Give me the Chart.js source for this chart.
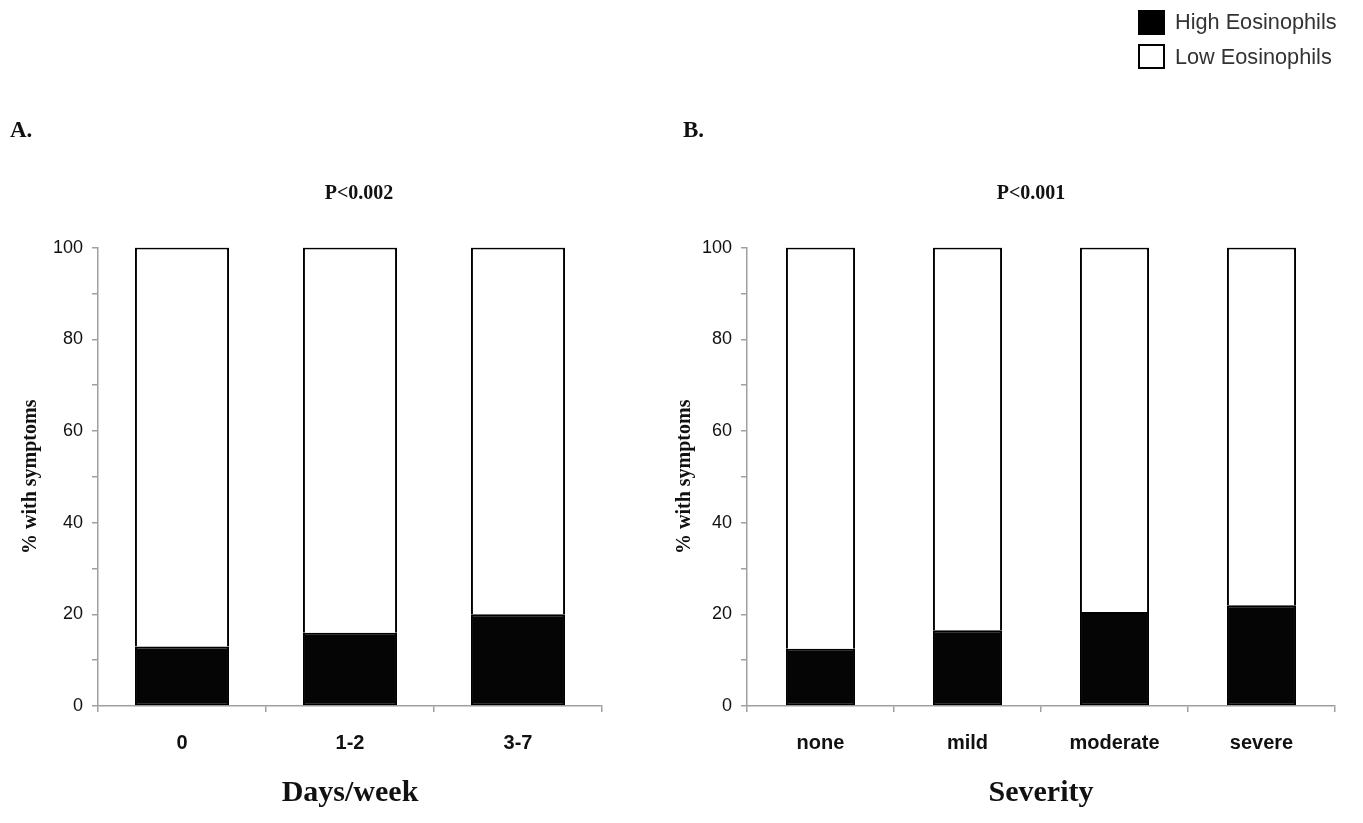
<!DOCTYPE html>
<html>
<head>
<meta charset="utf-8">
<script src="https://cdn.jsdelivr.net/npm/chart.js@4.4.1/dist/chart.umd.min.js"></script>
<style>
  html, body { margin: 0; padding: 0; background: #fff; width: 1363px; height: 823px; overflow: hidden; }
  .abs { position: absolute; }
  .panel { font-family: "Liberation Serif", "Times New Roman", serif; font-weight: bold; font-size: 23px; color: #111; line-height: 23px; }
  .lg-box { position: absolute; width: 23px; height: 21px; border: 2px solid #000; box-sizing: content-box; }
  .lg-text { position: absolute; font-family: "Liberation Sans", Arial, sans-serif; font-size: 21.7px; color: #333; line-height: 22px; white-space: nowrap; }
</style>
</head>
<body>
<canvas id="chartA" class="abs" style="left:0px;top:0px;"></canvas>
<canvas id="chartB" class="abs" style="left:660px;top:0px;"></canvas>

<div class="panel abs" style="left:10px;top:118px;">A.</div>
<div class="panel abs" style="left:683px;top:118px;">B.</div>

<div class="lg-box" style="left:1138px;top:10px;background:#000;"></div>
<div class="lg-text" style="left:1175px;top:11px;">High Eosinophils</div>
<div class="lg-box" style="left:1138px;top:44px;background:#fff;"></div>
<div class="lg-text" style="left:1175px;top:46px;">Low Eosinophils</div>

<script>
// ---- data ----
const legendLabels = ['High Eosinophils', 'Low Eosinophils'];

const daysCategories = ['0', '1-2', '3-7'];
const daysHigh = [13, 16, 20];
const daysLow = [87, 84, 80];
const daysTitle = 'Days/week';
const daysPValue = 'P<0.002';

const severityCategories = ['none', 'mild', 'moderate', 'severe'];
const severityHigh = [12.5, 16.5, 20.5, 22];
const severityLow = [87.5, 83.5, 79.5, 78];
const severityTitle = 'Severity';
const severityPValue = 'P<0.001';

const yTitle = '% with symptoms';
const yMin = 0, yMax = 100, yStep = 10, yLabelStep = 20;

// ---- styling helpers ----
const SANS = '"Liberation Sans", Arial, sans-serif';
const SERIF = '"Liberation Serif", "Times New Roman", serif';
const AXIS_GRAY = '#a0a0a0';

function makeChart(canvasId, cfg) {
  const canvas = document.getElementById(canvasId);
  canvas.width = cfg.width; canvas.height = cfg.height;
  canvas.style.width = cfg.width + 'px'; canvas.style.height = cfg.height + 'px';
  const titleShift = {
    id: 'titleShift',
    afterLayout(chart) {
      const t = chart.titleBlock;
      if (!t) return;
      const half = (t.right - t.left) / 2;
      t.left = cfg.titleCenter - half;
      t.right = cfg.titleCenter + half;
    }
  };
  return new Chart(canvas, {
    type: 'bar',
    data: {
      labels: cfg.categories,
      datasets: [
        { label: legendLabels[0], data: cfg.high, backgroundColor: '#050505', borderColor: '#000', borderWidth: 2, borderSkipped: false,
          barPercentage: cfg.barPct, categoryPercentage: 1 },
        { label: legendLabels[1], data: cfg.low, backgroundColor: '#ffffff', borderColor: '#000', borderWidth: 2, borderSkipped: 'start',
          barPercentage: cfg.barPct, categoryPercentage: 1 }
      ]
    },
    plugins: [titleShift],
    options: {
      responsive: false,
      animation: false,
      devicePixelRatio: 1,
      layout: { padding: { top: 181.6, right: cfg.padRight, bottom: 0, left: 0 } },
      plugins: {
        legend: { display: false },
        tooltip: { enabled: false },
        title: {
          display: true, text: cfg.pValue, color: '#111', fullSize: false,
          font: { family: SERIF, weight: 'bold', size: 20, lineHeight: 1.2 },
          padding: { top: 0, bottom: 42 }
        }
      },
      scales: {
        x: {
          stacked: true,
          offset: true,
          grid: { drawOnChartArea: false, offset: true, tickLength: 6, color: AXIS_GRAY, lineWidth: 1.5 },
          border: { display: true, color: AXIS_GRAY, width: 1.5 },
          ticks: { color: '#111', font: { family: SANS, weight: 'bold', size: 20 }, padding: 19, maxRotation: 0 },
          title: { display: true, text: cfg.xTitle, color: '#111', font: { family: SERIF, weight: 'bold', size: 30, lineHeight: 1.2 }, padding: { top: 0, bottom: 12 } },
          afterFit: (s) => { s.height = 117; }
        },
        y: {
          stacked: true,
          min: yMin, max: yMax,
          grid: { drawOnChartArea: false, tickLength: 6, color: AXIS_GRAY, lineWidth: 1.5 },
          border: { display: true, color: AXIS_GRAY, width: 1.5 },
          ticks: { stepSize: yStep, color: '#111', font: { family: SANS, size: 18 }, padding: 9,
            callback: (v) => (v % yLabelStep === 0 ? String(v) : '') },
          title: { display: true, text: yTitle, color: '#111', font: { family: SERIF, weight: 'bold', size: 20, lineHeight: 1.2 }, padding: { top: cfg.yTitlePad, bottom: 0 } },
          afterFit: (s) => { s.width = cfg.yWidth; }
        }
      }
    }
  });
}

makeChart('chartA', {
  width: 718, height: 823, categories: daysCategories, high: daysHigh, low: daysLow,
  pValue: daysPValue, xTitle: daysTitle, barPct: 0.56, padRight: 116, yWidth: 98, yTitlePad: 19, titleCenter: 359
});
makeChart('chartB', {
  width: 742, height: 823, categories: severityCategories, high: severityHigh, low: severityLow,
  pValue: severityPValue, xTitle: severityTitle, barPct: 0.47, padRight: 67, yWidth: 87, yTitlePad: 13, titleCenter: 371
});
</script>
</body>
</html>
